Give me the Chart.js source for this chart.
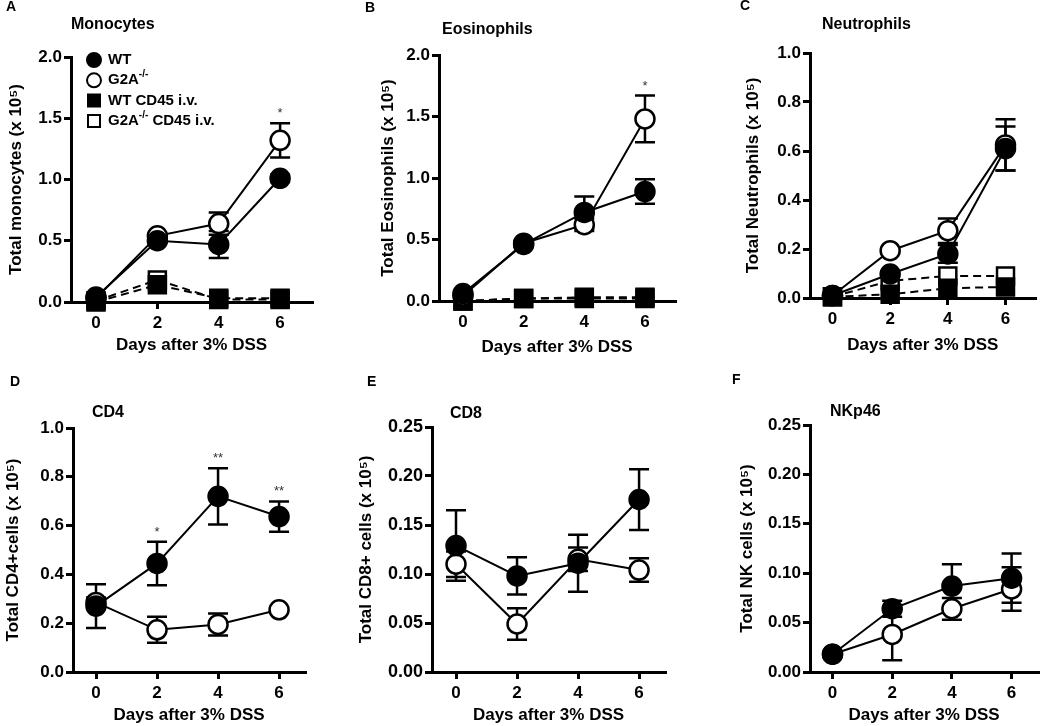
<!DOCTYPE html>
<html>
<head>
<meta charset="utf-8">
<script src="https://cdn.jsdelivr.net/npm/chart.js@4.4.0/dist/chart.umd.min.js"></script>
<style>
  html, body { margin: 0; padding: 0; background: #fff; overflow: hidden; }
  #fig { position: relative; width: 1050px; height: 726px; }
  canvas { position: absolute; }
</style>
</head>
<body>
<div id="fig">
  <canvas id="cA" width="350" height="365" style="left:0;top:0"></canvas>
  <canvas id="cB" width="350" height="365" style="left:350px;top:0"></canvas>
  <canvas id="cC" width="350" height="365" style="left:700px;top:0"></canvas>
  <canvas id="cD" width="350" height="356" style="left:0;top:370px"></canvas>
  <canvas id="cE" width="350" height="356" style="left:350px;top:370px"></canvas>
  <canvas id="cF" width="350" height="356" style="left:700px;top:370px"></canvas>
</div>
<script>
'use strict';

// days after 3% DSS
const days = [0, 2, 4, 6];

// A - monocytes (x 10^5)
const monoWT = [0.04, 0.50, 0.47, 1.01];
const monoWTErr = [0.01, 0.02, 0.11, 0.03];
const monoKO = [0.03, 0.54, 0.64, 1.32];
const monoKOErr = [0.01, 0.02, 0.09, 0.14];
const monoWTiv = [0.0, 0.14, 0.03, 0.03];
const monoKOiv = [0.01, 0.18, 0.02, 0.02];
const monoStars = ['', '', '', '*'];
const monoTicks = [0, 0.5, 1.0, 1.5, 2.0];

// B - eosinophils
const eosWT = [0.06, 0.46, 0.72, 0.89];
const eosWTErr = [0.01, 0.02, 0.13, 0.10];
const eosKO = [0.04, 0.47, 0.62, 1.48];
const eosKOErr = [0.01, 0.02, 0.05, 0.19];
const eosWTiv = [0.0, 0.02, 0.02, 0.02];
const eosKOiv = [0.0, 0.02, 0.03, 0.03];
const eosStars = ['', '', '', '*'];
const eosTicks = [0, 0.5, 1.0, 1.5, 2.0];

// C - neutrophils
const neuWT = [0.01, 0.098, 0.18, 0.61];
const neuWTErr = [0.005, 0.01, 0.036, 0.09];
const neuKO = [0.01, 0.193, 0.275, 0.625];
const neuKOErr = [0.005, 0.01, 0.05, 0.105];
const neuWTiv = [0.005, 0.015, 0.04, 0.045];
const neuKOiv = [0.005, 0.07, 0.09, 0.09];
const neuTicks = [0, 0.2, 0.4, 0.6, 0.8, 1.0];

// D - CD4
const cd4WT = [0.27, 0.445, 0.72, 0.637];
const cd4WTErr = [0.09, 0.089, 0.115, 0.062];
const cd4KO = [0.285, 0.173, 0.195, 0.255];
const cd4KOErr = [0.02, 0.053, 0.045, 0.01];
const cd4Stars = ['', '*', '**', '**'];
const cd4Ticks = [0, 0.2, 0.4, 0.6, 0.8, 1.0];

// E - CD8
const cd8WT = [0.129, 0.098, 0.111, 0.176];
const cd8WTErr = [0.036, 0.019, 0.029, 0.031];
const cd8KO = [0.110, 0.049, 0.115, 0.104];
const cd8KOErr = [0.013, 0.016, 0.012, 0.012];
const cd8Ticks = [0, 0.05, 0.10, 0.15, 0.20, 0.25];

// F - NKp46
const nkWT = [0.018, 0.064, 0.087, 0.095];
const nkWTErr = [0.002, 0.008, 0.022, 0.025];
const nkKO = [0.018, 0.038, 0.064, 0.084];
const nkKOErr = [0.002, 0.026, 0.011, 0.022];
const nkTicks = [0, 0.05, 0.10, 0.15, 0.20, 0.25];

const FONT = "'Liberation Sans', Arial, Helvetica, sans-serif";
Chart.defaults.font.family = FONT;
Chart.defaults.color = '#000';

function series(values, errs, filled, shape, dashed, stars) {
  return {
    data: values.map((v, i) => ({ x: days[i], y: v })),
    errors: errs,
    stars: stars,
    showLine: true,
    borderColor: '#000',
    borderWidth: 2,
    borderDash: dashed ? [8, 5] : [],
    pointStyle: shape,
    pointRadius: shape === 'rect' ? 12 : 9.5,
    pointBackgroundColor: filled ? '#000' : '#fff',
    pointBorderColor: '#000',
    pointBorderWidth: 2.5,
    tension: 0,
    clip: false
  };
}

// error bars under the markers, significance stars above them
const errorBars = {
  id: 'errorBars',
  beforeDatasetsDraw(chart) {
    const { ctx, scales: { x, y } } = chart;
    ctx.save();
    ctx.strokeStyle = '#000';
    ctx.lineWidth = 2.5;
    chart.data.datasets.forEach((ds) => {
      if (!ds.errors) return;
      ds.data.forEach((p, i) => {
        const e = ds.errors[i];
        if (!e) return;
        const px = x.getPixelForValue(p.x);
        const top = y.getPixelForValue(p.y + e);
        const bot = y.getPixelForValue(p.y - e);
        ctx.beginPath();
        ctx.moveTo(px, top); ctx.lineTo(px, bot);
        ctx.moveTo(px - 10, top); ctx.lineTo(px + 10, top);
        ctx.moveTo(px - 10, bot); ctx.lineTo(px + 10, bot);
        ctx.stroke();
      });
    });
    ctx.restore();
  },
  afterDatasetsDraw(chart) {
    const { ctx, scales: { x, y } } = chart;
    ctx.save();
    ctx.fillStyle = '#333';
    ctx.font = '13px ' + FONT;
    ctx.textAlign = 'center';
    ctx.textBaseline = 'alphabetic';
    chart.data.datasets.forEach((ds) => {
      if (!ds.stars) return;
      ds.data.forEach((p, i) => {
        if (!ds.stars[i]) return;
        const top = y.getPixelForValue(p.y + (ds.errors ? ds.errors[i] : 0));
        ctx.fillText(ds.stars[i], x.getPixelForValue(p.x), top - 6);
      });
    });
    ctx.restore();
  }
};

// panel letter and panel title
const panelText = {
  id: 'panelText',
  afterDraw(chart, args, opts) {
    if (!opts.title) return;
    const ctx = chart.ctx;
    ctx.save();
    ctx.fillStyle = '#000';
    ctx.textBaseline = 'middle';
    ctx.textAlign = 'left';
    ctx.font = 'bold 14px ' + FONT;
    ctx.fillText(opts.letter, opts.letterPos[0], opts.letterPos[1]);
    ctx.font = 'bold 16px ' + FONT;
    ctx.fillText(opts.title, opts.titlePos[0], opts.titlePos[1]);
    ctx.restore();
  }
};

// legend of panel A (with superscripts)
const figLegend = {
  id: 'figLegend',
  afterDraw(chart, args, opts) {
    if (!opts.items) return;
    const ctx = chart.ctx;
    ctx.save();
    ctx.textBaseline = 'middle';
    ctx.textAlign = 'left';
    ctx.lineWidth = 2;
    ctx.strokeStyle = '#000';
    opts.items.forEach((it, k) => {
      const cy = opts.y + k * opts.gap;
      const cx = opts.x;
      ctx.fillStyle = it.filled ? '#000' : '#fff';
      ctx.beginPath();
      if (it.shape === 'circle') ctx.arc(cx, cy, 7, 0, Math.PI * 2);
      else ctx.rect(cx - 6, cy - 6, 12, 12);
      ctx.fill();
      ctx.stroke();
      let tx = opts.x + 14;
      ctx.fillStyle = '#000';
      it.parts.forEach((part) => {
        if (part.sup) {
          ctx.font = 'bold 10px ' + FONT;
          ctx.fillText(part.sup, tx, cy - 6);
          tx += ctx.measureText(part.sup).width;
        } else {
          ctx.font = 'bold 15px ' + FONT;
          ctx.fillText(part.text, tx, cy);
          tx += ctx.measureText(part.text).width;
        }
      });
    });
    ctx.restore();
  }
};

Chart.register(errorBars, panelText, figLegend);

function makePanel(p) {
  const [L, T, R, B] = p.area;
  const tickSize = p.tickSize || 17;
  return new Chart(document.getElementById(p.id), {
    type: 'line',
    data: { datasets: p.datasets },
    options: {
      responsive: false,
      animation: false,
      devicePixelRatio: 1,
      layout: { padding: { left: 0, top: T, right: p.w - R, bottom: 0 } },
      scales: {
        x: {
          type: 'linear',
          min: p.xRange[0],
          max: p.xRange[1],
          afterBuildTicks: (s) => { s.ticks = days.map((v) => ({ value: v })); },
          afterFit: (s) => { s.height = p.h - B; },
          ticks: { font: { size: 17, weight: 'bold' }, color: '#000', padding: 4, maxRotation: 0 },
          grid: { drawOnChartArea: false, drawTicks: true, tickLength: 7, lineWidth: 3, color: '#000' },
          border: { display: true, width: 3, color: '#000' },
          title: {
            display: true, text: 'Days after 3% DSS', color: '#000',
            font: { size: 17, weight: 'bold', lineHeight: 1.2 },
            padding: { top: 0, bottom: p.xTitlePad }
          }
        },
        y: {
          type: 'linear',
          min: 0,
          max: p.yTicks[p.yTicks.length - 1],
          afterBuildTicks: (s) => { s.ticks = p.yTicks.map((v) => ({ value: v })); },
          afterFit: (s) => { s.width = L; },
          ticks: {
            font: { size: tickSize, weight: 'bold' }, color: '#000', padding: 2,
            callback: (v) => Number(v).toFixed(p.dec)
          },
          grid: { drawOnChartArea: false, drawTicks: true, tickLength: 7, lineWidth: 3, color: '#000' },
          border: { display: true, width: 3, color: '#000' },
          title: {
            display: true, text: p.yTitle, color: '#000',
            font: { size: 17, weight: 'bold', lineHeight: 1.2 },
            padding: { top: p.yTitlePad, bottom: 0 }
          }
        }
      },
      plugins: {
        legend: { display: false },
        tooltip: { enabled: false },
        panelText: { letter: p.letter, letterPos: p.letterPos, title: p.title, titlePos: p.titlePos },
        figLegend: p.legend || {}
      }
    }
  });
}

const panels = [
  {
    id: 'cA', w: 350, h: 365, area: [71, 57, 312, 302], xRange: [-0.815, 7.04],
    yTicks: monoTicks, dec: 1, yTitle: 'Total monocytes (x 10\u2075)', yTitlePad: 5.8, xTitlePad: 9.8,
    letter: 'A', letterPos: [6, 7], title: 'Monocytes', titlePos: [71, 25],
    datasets: [
      series(monoWT, monoWTErr, true, 'circle', false, null),
      series(monoKO, monoKOErr, false, 'circle', false, monoStars),
      series(monoWTiv, null, true, 'rect', true, null),
      series(monoKOiv, null, false, 'rect', true, null)
    ],
    legend: {
      x: 94, y: 60, gap: 20.3,
      items: [
        { shape: 'circle', filled: true, parts: [{ text: 'WT' }] },
        { shape: 'circle', filled: false, parts: [{ text: 'G2A' }, { sup: '-/-' }] },
        { shape: 'rect', filled: true, parts: [{ text: 'WT CD45 i.v.' }] },
        { shape: 'rect', filled: false, parts: [{ text: 'G2A' }, { sup: '-/-' }, { text: ' CD45 i.v.' }] }
      ]
    }
  },
  {
    id: 'cB', w: 350, h: 365, area: [89, 55, 325, 301], xRange: [-0.79, 6.99],
    yTicks: eosTicks, dec: 1, yTitle: 'Total Eosinophils (x 10\u2075)', yTitlePad: 27.8, xTitlePad: 7.4,
    letter: 'B', letterPos: [15, 8], title: 'Eosinophils', titlePos: [92, 30],
    datasets: [
      series(eosWT, eosWTErr, true, 'circle', false, null),
      series(eosKO, eosKOErr, false, 'circle', false, eosStars),
      series(eosWTiv, null, true, 'rect', true, null),
      series(eosKOiv, null, false, 'rect', true, null)
    ]
  },
  {
    id: 'cC', w: 350, h: 365, area: [110, 53, 350, 298], xRange: [-0.78, 7.04],
    yTicks: neuTicks, dec: 1, yTitle: 'Total Neutrophils (x 10\u2075)', yTitlePad: 42.8, xTitlePad: 9.8,
    letter: 'C', letterPos: [40, 6], title: 'Neutrophils', titlePos: [122, 25],
    datasets: [
      series(neuWT, neuWTErr, true, 'circle', false, null),
      series(neuKO, neuKOErr, false, 'circle', false, null),
      series(neuWTiv, null, true, 'rect', true, null),
      series(neuKOiv, null, false, 'rect', true, null)
    ]
  },
  {
    id: 'cD', w: 350, h: 356, area: [73, 58, 305, 302], xRange: [-0.754, 6.85],
    yTicks: cd4Ticks, dec: 1, yTitle: 'Total CD4+cells (x 10\u2075)', yTitlePad: 2.8, xTitlePad: 0,
    letter: 'D', letterPos: [10, 12], title: 'CD4', titlePos: [92, 43],
    datasets: [
      series(cd4WT, cd4WTErr, true, 'circle', false, cd4Stars),
      series(cd4KO, cd4KOErr, false, 'circle', false, null)
    ]
  },
  {
    id: 'cE', w: 350, h: 356, area: [82, 57, 315, 302], xRange: [-0.787, 6.85],
    yTicks: cd8Ticks, dec: 2, tickSize: 18, yTitle: 'Total CD8+ cells (x 10\u2075)', yTitlePad: 5.8, xTitlePad: 0,
    letter: 'E', letterPos: [17, 12], title: 'CD8', titlePos: [100, 44],
    datasets: [
      series(cd8WT, cd8WTErr, true, 'circle', false, null),
      series(cd8KO, cd8KOErr, false, 'circle', false, null)
    ]
  },
  {
    id: 'cF', w: 350, h: 356, area: [110, 55, 343, 302], xRange: [-0.754, 6.885],
    yTicks: nkTicks, dec: 2, yTitle: 'Total NK cells (x 10\u2075)', yTitlePad: 36.8, xTitlePad: 0,
    letter: 'F', letterPos: [32, 10], title: 'NKp46', titlePos: [130, 42],
    datasets: [
      series(nkWT, nkWTErr, true, 'circle', false, null),
      series(nkKO, nkKOErr, false, 'circle', false, null)
    ]
  }
];

panels.forEach(makePanel);
</script>
</body>
</html>
